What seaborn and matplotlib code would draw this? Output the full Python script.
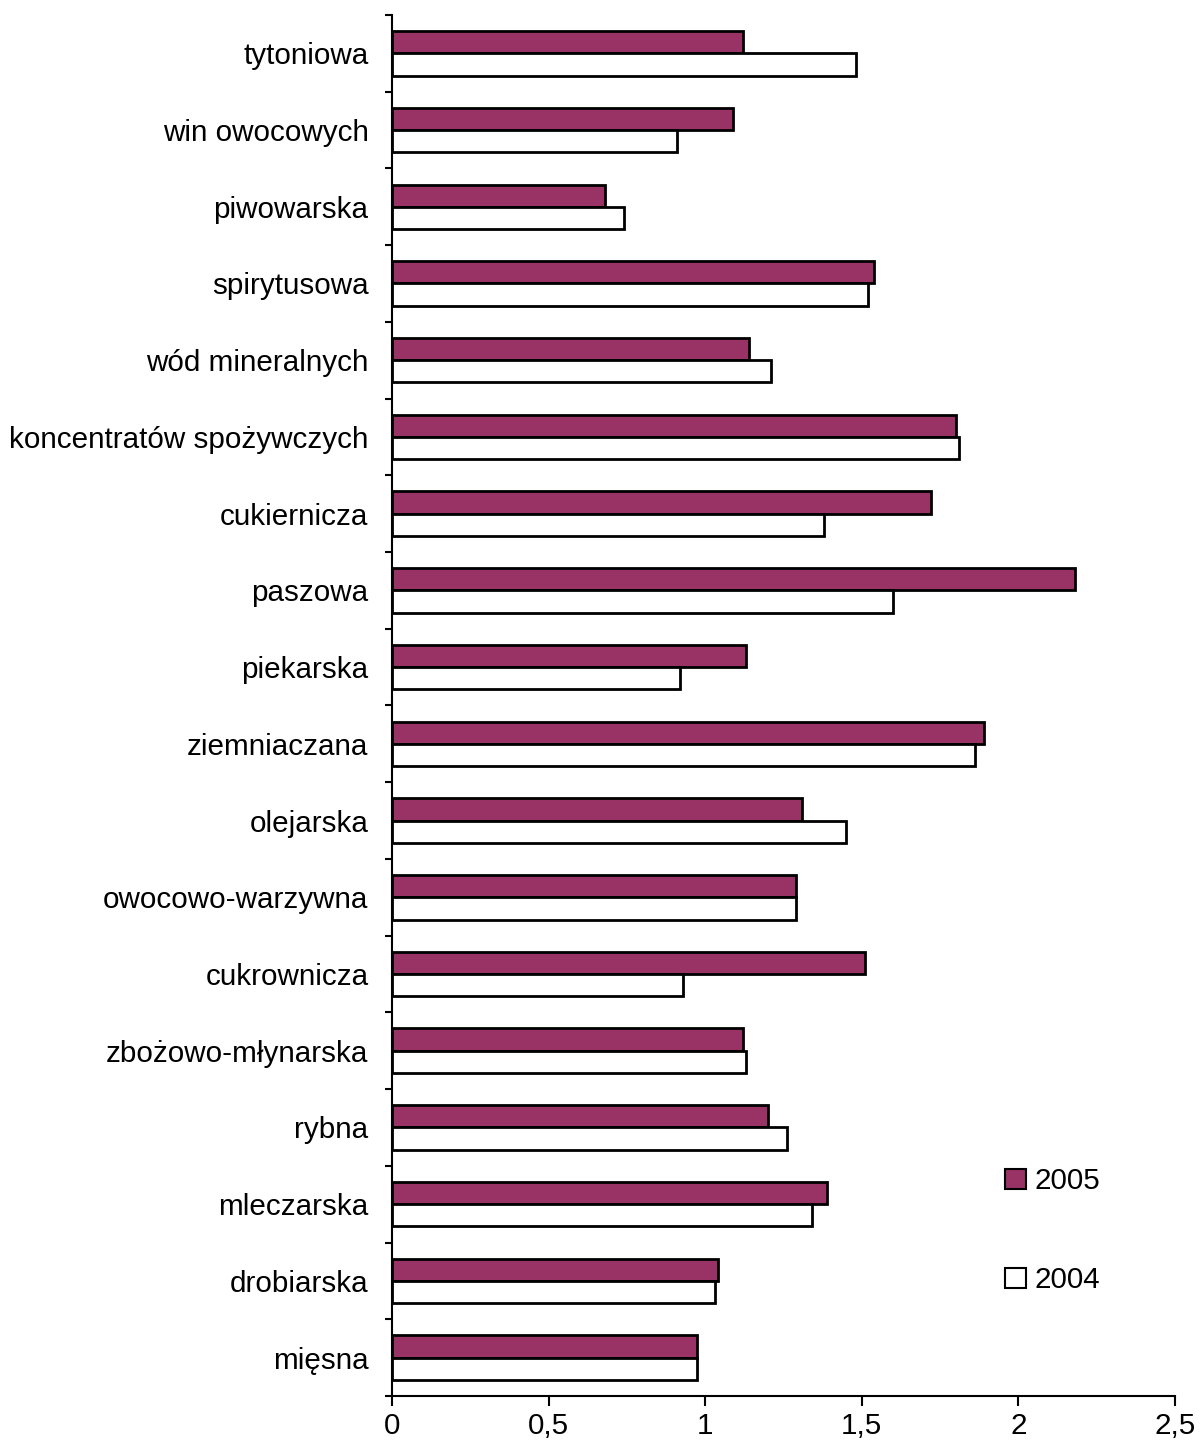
import numpy as np
import pandas as pd
import seaborn as sns
import matplotlib.pyplot as plt
from matplotlib.patches import Patch
from matplotlib.ticker import FuncFormatter

# dane (kolejnosc od gory)
branze = ['tytoniowa', 'win owocowych', 'piwowarska', 'spirytusowa', 'wód mineralnych',
          'koncentratów spożywczych', 'cukiernicza', 'paszowa', 'piekarska', 'ziemniaczana',
          'olejarska', 'owocowo-warzywna', 'cukrownicza', 'zbożowo-młynarska', 'rybna',
          'mleczarska', 'drobiarska', 'mięsna']
wart_2005 = [1.12, 1.09, 0.68, 1.54, 1.14, 1.80, 1.72, 2.18, 1.13, 1.89,
             1.31, 1.29, 1.51, 1.12, 1.20, 1.39, 1.04, 0.975]
wart_2004 = [1.48, 0.91, 0.74, 1.52, 1.21, 1.81, 1.38, 1.60, 0.92, 1.86,
             1.45, 1.29, 0.93, 1.13, 1.26, 1.34, 1.03, 0.975]
lata = ['2005', '2004']
kolory = {'2005': '#993366', '2004': 'white'}
x_ticks = [0, 0.5, 1, 1.5, 2, 2.5]

df = pd.DataFrame({
    'branza': branze * 2,
    'rok': ['2005'] * len(branze) + ['2004'] * len(branze),
    'wartosc': wart_2005 + wart_2004,
})

sns.set_style('ticks')
plt.rcParams['font.family'] = ['Liberation Sans', 'DejaVu Sans']
plt.rcParams['text.color'] = 'black'
plt.rcParams['xtick.color'] = 'black'
plt.rcParams['ytick.color'] = 'black'
plt.rcParams['axes.labelcolor'] = 'black'

fig = plt.figure(figsize=(12, 14.52), dpi=100)
ax = fig.add_axes([0.3267, 0.0386, 0.6525, 0.9511])

sns.barplot(data=df, x='wartosc', y='branza', hue='rok', order=branze, hue_order=lata,
            palette=kolory, orient='h', width=0.58, edgecolor='black', linewidth=2,
            saturation=1, errorbar=None, legend=False, ax=ax)

ax.set_xlim(0, 2.5)
ax.set_ylim(len(branze) - 0.5, -0.5)
ax.set_xticks(x_ticks)
ax.xaxis.set_major_formatter(FuncFormatter(lambda v, p: ('%g' % v).replace('.', ',')))
ax.set_yticks(range(len(branze)))
ax.set_yticklabels(branze)
ax.set_yticks(np.arange(-0.5, len(branze), 1), minor=True)
ax.set_xlabel('')
ax.set_ylabel('')

ax.tick_params(axis='y', which='major', length=0, pad=17, labelsize=21.3, labelcolor='black')
ax.tick_params(axis='y', which='minor', length=5, width=1.5, color='black')
ax.tick_params(axis='x', length=7.5, width=1.5, color='black', pad=4, labelsize=21.3,
               labelcolor='black')

for s in ['top', 'right']:
    ax.spines[s].set_visible(False)
for s in ['left', 'bottom']:
    ax.spines[s].set_linewidth(1.5)
    ax.spines[s].set_color('black')

handles = [Patch(facecolor=kolory[r], edgecolor='black', linewidth=1.5) for r in lata]
fig.legend(handles, lata, loc='upper left', bbox_to_anchor=(0.8375, 0.196),
           frameon=False, fontsize=21.3, handlelength=0.7, handleheight=0.7,
           handletextpad=0.3, labelspacing=2.4, borderpad=0, borderaxespad=0,
           labelcolor='black')

fig.savefig('out.png', dpi=100)
